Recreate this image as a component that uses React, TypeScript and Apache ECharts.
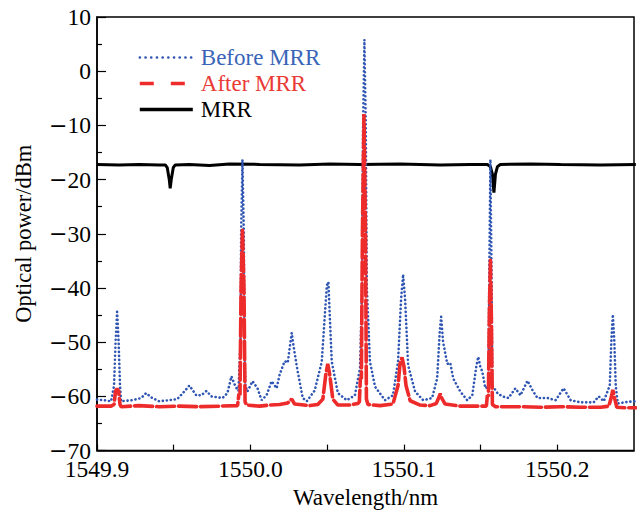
import React, { useEffect, useRef } from "react";
import * as echarts from "echarts";

const FONT = "Liberation Serif";

const seriesNames = ["Before MRR", "After MRR", "MRR"];

// [wavelength (nm), optical power (dBm)]
const beforeMrr: [number, number][] = [
  [1549.9, -60.6], [1549.9046, -60.7], [1549.9092, -60.9], [1549.9111, -58], [1549.9121, -50],
  [1549.9131, -44.4], [1549.9141, -50], [1549.915, -58], [1549.9157, -60.9], [1549.9229, -60.7],
  [1549.9288, -60.3], [1549.932, -59.4], [1549.936, -60.3], [1549.9405, -60.9], [1549.9471, -60.7],
  [1549.9523, -60.5], [1549.9569, -59.1], [1549.9602, -58.0], [1549.9647, -59.8], [1549.968, -59.8],
  [1549.9713, -59.0], [1549.9746, -60.0], [1549.9818, -60.3], [1549.985, -59.4], [1549.9876, -56.3],
  [1549.9903, -58.2], [1549.9922, -59.0], [1549.9935, -50], [1549.9939, -30], [1549.9948, -16.3],
  [1549.9957, -30], [1549.9961, -50], [1549.9967, -58], [1549.998, -59.1], [1550.0014, -57.2],
  [1550.0046, -58.5], [1550.0073, -60.7], [1550.0105, -59.8], [1550.0138, -57.2], [1550.0171, -58.5],
  [1550.019, -56.0], [1550.0223, -53.5], [1550.0243, -53.8], [1550.0269, -48.3], [1550.0288, -52],
  [1550.0308, -55.4], [1550.0341, -60.3], [1550.0367, -60.9], [1550.0419, -58.9], [1550.0465, -53.6],
  [1550.0485, -45], [1550.0498, -39.5], [1550.0508, -38.9], [1550.0517, -45], [1550.053, -53.6],
  [1550.057, -59.4], [1550.0628, -60.7], [1550.0681, -59.8], [1550.0714, -54.8], [1550.0727, -40],
  [1550.0734, -10], [1550.0743, 5.8], [1550.0752, -10], [1550.0759, -40], [1550.0779, -53.6],
  [1550.0812, -58.2], [1550.0877, -60.7], [1550.0929, -59.8], [1550.0962, -53.6], [1550.0982, -42],
  [1550.0995, -37.5], [1550.1008, -42], [1550.1028, -54.3], [1550.1073, -59.1], [1550.1126, -60.7],
  [1550.1184, -60.3], [1550.1217, -56.7], [1550.1234, -48], [1550.1243, -45.3], [1550.1256, -50],
  [1550.1283, -54.0], [1550.1302, -53.8], [1550.1322, -56.7], [1550.1368, -59.1], [1550.1413, -60.7],
  [1550.1446, -59.8], [1550.1472, -54.5], [1550.1485, -52.7], [1550.1498, -54.5], [1550.1511, -55.4],
  [1550.1531, -58.5], [1550.1551, -58.2], [1550.1556, -40], [1550.1564, -16.3], [1550.1573, -40],
  [1550.1577, -58], [1550.161, -59.4], [1550.1642, -60.0], [1550.1682, -60.3], [1550.1727, -58.5],
  [1550.176, -59.8], [1550.1806, -57.1], [1550.1839, -58.9], [1550.1871, -60.3], [1550.1937, -60.3],
  [1550.1989, -60.7], [1550.2041, -58.5], [1550.2087, -60.7], [1550.2152, -61.1], [1550.2237, -61.1],
  [1550.227, -60.0], [1550.2303, -60.9], [1550.2342, -58], [1550.2352, -50], [1550.2362, -44.9],
  [1550.2372, -50], [1550.2381, -58], [1550.2394, -61.3], [1550.246, -61.0], [1550.2512, -60.9],
];

const afterMrr: [number, number][] = [
  [1549.9, -61.8], [1549.9092, -61.8], [1549.9111, -61.5], [1549.9121, -59], [1549.9131, -58.6],
  [1549.9141, -59], [1549.915, -61.5], [1549.9157, -61.9], [1549.9275, -61.7], [1549.9405, -61.9],
  [1549.9536, -61.8], [1549.9667, -61.9], [1549.9798, -61.8], [1549.9916, -61.7], [1549.9925, -59.5],
  [1549.9932, -59.8], [1549.9939, -40], [1549.9948, -29.1], [1549.9958, -40], [1549.9965, -61],
  [1549.9975, -61.6], [1550.006, -61.8], [1550.0125, -61.6], [1550.019, -61.5], [1550.0243, -61.2],
  [1550.0269, -60.5], [1550.0288, -61.4], [1550.0387, -61.7], [1550.0439, -61.5], [1550.0472, -60.5],
  [1550.0491, -56], [1550.0504, -54.0], [1550.0517, -56], [1550.0537, -60.5], [1550.057, -61.6],
  [1550.0648, -61.6], [1550.07, -61.3], [1550.071, -61], [1550.0717, -56.5], [1550.0723, -56.8],
  [1550.073, -30], [1550.074, -7.9], [1550.075, -30], [1550.0756, -60.5], [1550.0766, -61.5],
  [1550.0844, -61.7], [1550.0929, -61.4], [1550.0962, -58], [1550.0975, -54], [1550.0988, -52.8],
  [1550.1001, -54.5], [1550.1014, -58], [1550.1041, -60.8], [1550.1106, -61.6], [1550.1171, -61.7],
  [1550.1211, -61.3], [1550.1224, -60.5], [1550.1237, -59.5], [1550.125, -60.5], [1550.1269, -61.4],
  [1550.1368, -61.8], [1550.1466, -61.8], [1550.1538, -61.8], [1550.1544, -59.8], [1550.1551, -60],
  [1550.1557, -45], [1550.1564, -34.8], [1550.157, -45], [1550.1577, -61.5], [1550.1597, -61.9],
  [1550.176, -61.9], [1550.1891, -62.0], [1550.2022, -61.9], [1550.2152, -62], [1550.2283, -62.0],
  [1550.2336, -61.8], [1550.2349, -60.5], [1550.2362, -58.8], [1550.2375, -60.5], [1550.2388, -62],
  [1550.2447, -62.1], [1550.2512, -62.1],
];

const mrr: [number, number][] = [
  [1549.9, -17.2], [1549.9144, -17.3], [1549.9275, -17.2], [1549.9405, -17.3], [1549.9445, -17.3],
  [1549.9458, -17.8], [1549.9471, -20], [1549.9477, -21.6], [1549.9484, -20], [1549.9497, -17.8],
  [1549.951, -17.3], [1549.9602, -17.2], [1549.9733, -17.4], [1549.9863, -17.1], [1550.006, -17.2],
  [1550.0321, -17.3], [1550.0517, -17.1], [1550.0714, -17.2], [1550.0975, -17.1], [1550.1237, -17.3],
  [1550.1433, -17.2], [1550.1544, -17.2], [1550.1564, -17.6], [1550.1577, -19], [1550.1587, -22.4],
  [1550.1597, -19], [1550.161, -17.6], [1550.1629, -17.2], [1550.1825, -17.1], [1550.2022, -17.2],
  [1550.2283, -17.3], [1550.2512, -17.2],
];

const xMin = 1549.9;
const xMax = 1550.25;
const xStep = 0.05;
const yMin = -70;
const yMax = 10;
const yStep = 10;

const BLUE = "#2f55b3";
const BLUE_TEXT = "#3a64b7";
const RED = "#ee2b2b";
const RED_TEXT = "#ea3a35";

export default function App() {
  const ref = useRef<HTMLDivElement>(null);
  useEffect(() => {
    if (!ref.current) return;
    const chart = echarts.init(ref.current, undefined, { renderer: "svg" });
    const legendText = (color: string) => ({ color, fontSize: 23, fontFamily: FONT, padding: [0, 0, 0, 3] });
    chart.setOption({
      animation: false,
      backgroundColor: "#ffffff",
      textStyle: { fontFamily: FONT },
      grid: {
        left: 97,
        right: 4,
        top: 17,
        bottom: 62,
        show: true,
        borderColor: "#000",
        borderWidth: 1.5,
        backgroundColor: "transparent",
      },
      legend: {
        orient: "vertical",
        left: 138,
        top: 46,
        padding: 0,
        itemWidth: 53,
        itemHeight: 14,
        itemGap: 3,
        selectedMode: false,
        itemStyle: { opacity: 0 },
        textStyle: legendText("#000"),
        data: [
          {
            name: seriesNames[0],
            textStyle: legendText(BLUE_TEXT),
            itemStyle: { opacity: 0 },
            lineStyle: { type: [0.1, 5.6], cap: "round", width: 2.6, color: BLUE },
          },
          {
            name: seriesNames[1],
            textStyle: legendText(RED_TEXT),
            itemStyle: { opacity: 0 },
            lineStyle: { type: [14, 17], cap: "butt", width: 3.6, color: RED },
          },
          {
            name: seriesNames[2],
            textStyle: legendText("#000"),
            itemStyle: { opacity: 0 },
            lineStyle: { type: "solid", width: 3.4, color: "#000" },
          },
        ],
      },
      xAxis: {
        type: "value",
        min: xMin,
        max: xMax,
        interval: xStep,
        name: "Wavelength/nm",
        nameLocation: "middle",
        nameGap: 33,
        nameTextStyle: { fontSize: 23, fontFamily: FONT, color: "#000" },
        axisLine: { onZero: false, lineStyle: { color: "#000", width: 1.5 } },
        axisTick: { inside: true, length: 6, lineStyle: { color: "#000", width: 1.2 } },
        splitLine: { show: false },
        axisLabel: {
          fontSize: 23.5,
          fontFamily: FONT,
          color: "#000",
          lineHeight: 18,
          margin: 9.5,
          showMaxLabel: false,
          formatter: (v: number) => {
            const k = Math.round(v / xStep);
            if (Math.abs(v / xStep - k) > 1e-6 || k % 2 !== 0) return "";
            return v.toFixed(1);
          },
        },
      },
      yAxis: {
        type: "value",
        min: yMin,
        max: yMax,
        interval: yStep,
        name: "Optical power/dBm",
        nameLocation: "middle",
        nameGap: 62,
        nameTextStyle: { fontSize: 22.5, fontFamily: FONT, color: "#000" },
        axisLine: { onZero: false, lineStyle: { color: "#000", width: 1.5 } },
        axisTick: { inside: true, length: 9, lineStyle: { color: "#000", width: 1.2 } },
        minorTick: { show: true, splitNumber: 2, length: 5, lineStyle: { color: "#000", width: 1.2 } },
        splitLine: { show: false },
        minorSplitLine: { show: false },
        axisLabel: {
          fontSize: 23.5,
          fontFamily: FONT,
          color: "#000",
          lineHeight: 16,
          margin: 6,
          formatter: (v: number) => (v < 0 ? "{m|\u2212}{n|" + Math.abs(v) + "}" : "{n|" + v + "}"),
          rich: {
            m: { fontFamily: "DejaVu Sans", fontSize: 22, lineHeight: 16, color: "#000" },
            n: { fontFamily: FONT, fontSize: 23.5, lineHeight: 16, color: "#000" },
          },
        },
      },
      series: [
        {
          name: seriesNames[2],
          type: "line",
          data: mrr,
          symbol: "none",
          silent: true,
          z: 2,
          lineStyle: { color: "#000", width: 3 },
          itemStyle: { color: "#000" },
        },
        {
          name: seriesNames[0],
          type: "line",
          data: beforeMrr,
          symbol: "none",
          silent: true,
          z: 3,
          lineStyle: { color: BLUE, width: 2.6, type: [0.1, 3.9], cap: "round" },
          itemStyle: { color: BLUE },
        },
        {
          name: seriesNames[1],
          type: "line",
          data: afterMrr,
          symbol: "none",
          silent: true,
          z: 4,
          lineStyle: { color: RED, width: 3.6, type: [18, 4], cap: "round" },
          itemStyle: { color: RED },
        },
      ],
    });
    return () => chart.dispose();
  }, []);
  return <div ref={ref} style={{ width: 638, height: 514, position: "absolute", left: 0, top: 0 }} />;
}
